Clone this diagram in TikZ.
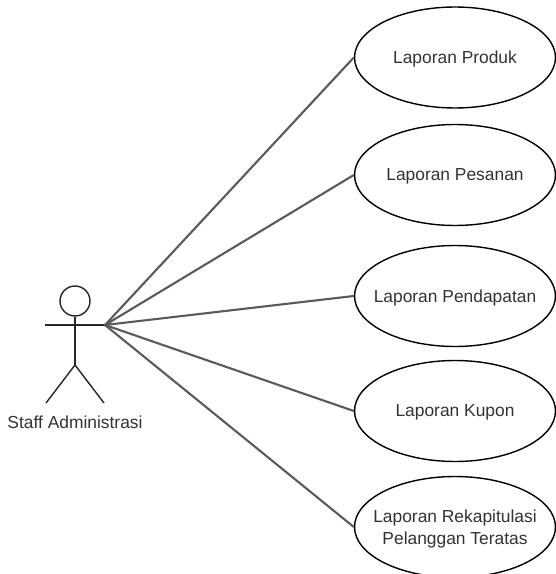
\documentclass[tikz,border=0pt]{standalone}
\usepackage{fontspec}
\usepackage{xcolor}
\setmainfont{Liberation Sans}
\usetikzlibrary{shapes.geometric,positioning,calc}
\definecolor{darktext}{RGB}{50,50,50}
\definecolor{darkline}{RGB}{90,90,90}
\tikzset{
    usecase/.style={draw, thick, ellipse, minimum width=4.02cm, minimum height=2.02cm, inner xsep=-0.3cm, inner ysep=0pt, text depth=0pt, align=center, font=\fontsize{9.9}{12.8}\selectfont, text=darktext},
    assoc/.style={line width=1.2pt, darkline},
    stick/.style={line width=0.8pt, black!85}
}

\begin{document}
\begin{tikzpicture}[x=0.02cm, y=-0.02cm]
    \useasboundingbox (0,0) rectangle (555,574);

    % Actor
    \node[draw, stick, circle, minimum size=0.6cm, inner sep=0pt] (head) at (75,301) {};
    \coordinate (hip) at (75,365);
    \coordinate (handleft) at (45,325);
    \coordinate (handright) at (105,325);
    \coordinate (footleft) at (46,403);
    \coordinate (footright) at (104,403);
    \draw[stick] (head) -- (hip);
    \draw[stick] (handleft) -- (handright);
    \draw[stick] (footleft) -- (hip) -- (footright);
    \node[font=\fontsize{9.9}{12}\selectfont, text=darktext] (actorlabel) at (75,422) {Staff Administrasi};

    % Use cases
    \node[usecase] (produk) at (455,57.5) {Laporan Produk};
    \node[usecase] (pesanan) at (455,175) {Laporan Pesanan};
    \node[usecase] (pendapatan) at (455,296) {Laporan Pendapatan};
    \node[usecase] (kupon) at (455,411) {Laporan Kupon};
    \node[usecase] (rekap) at (455,527) {Laporan Rekapitulasi\\Pelanggan Teratas};

    % Associations
    \draw[assoc] (handright) -- (produk.west);
    \draw[assoc] (handright) -- (pesanan.west);
    \draw[assoc] (handright) -- (pendapatan.west);
    \draw[assoc] (handright) -- (kupon.west);
    \draw[assoc] (handright) -- (rekap.west);
\end{tikzpicture}
\end{document}
